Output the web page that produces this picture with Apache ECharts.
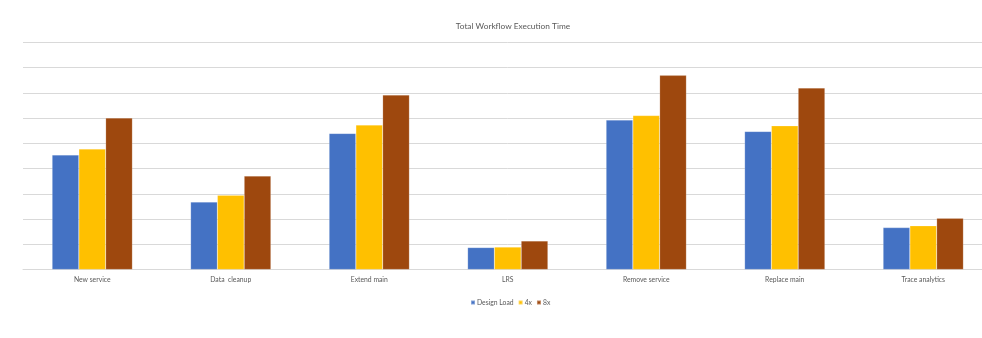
<!DOCTYPE html>
<html>
<head>
<meta charset="utf-8">
<script src="https://cdn.jsdelivr.net/npm/echarts@6/dist/echarts.min.js"></script>
<style>
  html, body { margin: 0; padding: 0; background: #ffffff; overflow: hidden; }
  #chart { width: 1000px; height: 338px; }
</style>
</head>
<body>
<div id="chart"></div>
<script>
// Workflow categories and execution times per load level
const categories = ['New service', 'Data  cleanup', 'Extend main', 'LRS', 'Remove service', 'Replace main', 'Trace analytics'];
const designLoad = [4.54, 2.67, 5.39, 0.87, 5.92, 5.47, 1.66];
const load4x     = [4.77, 2.94, 5.72, 0.89, 6.10, 5.69, 1.73];
const load8x     = [6.00, 3.70, 6.91, 1.13, 7.69, 7.19, 2.03];
const seriesNames = ['Design Load', '4x', '8x'];

const colors = ['#4472C4', '#FFC000', '#9E480E'];
const textColor = '#595959';
const fontFamily = 'Lato, "Liberation Sans", sans-serif';

const chart = echarts.init(document.getElementById('chart'), null, { renderer: 'canvas' });

function barSeries(name, data, color) {
  return {
    name: name,
    type: 'bar',
    data: data,
    barGap: '0%',
    barCategoryGap: '42%',
    itemStyle: { color: color, borderColor: 'rgba(255,255,255,0.35)', borderWidth: 0.5 },
    emphasis: { disabled: true }
  };
}

chart.setOption({
  animation: false,
  backgroundColor: '#ffffff',
  color: colors,
  title: {
    text: 'Total Workflow Execution Time',
    left: 508,
    textAlign: 'center',
    top: 17,
    textStyle: { color: textColor, fontSize: 8.3, fontWeight: 'normal', fontFamily: fontFamily }
  },
  legend: {
    data: seriesNames,
    top: 294,
    left: 465,
    icon: 'rect',
    itemWidth: 4,
    itemHeight: 4,
    itemGap: 4,
    textStyle: { color: textColor, fontSize: 6.8, fontFamily: fontFamily, padding: [0, 0, 0, -3] }
  },
  grid: { left: 23, top: 42.3, width: 969.5, height: 227.2, containLabel: false },
  xAxis: {
    type: 'category',
    data: categories,
    axisLine: { show: true, lineStyle: { color: '#d9d9d9', width: 1 } },
    axisTick: { show: false },
    axisLabel: { color: textColor, fontSize: 6.8, fontFamily: fontFamily, margin: 7 }
  },
  yAxis: {
    type: 'value',
    min: 0,
    max: 9,
    interval: 1,
    axisLabel: { show: false },
    axisLine: { show: false },
    axisTick: { show: false },
    splitLine: { lineStyle: { color: '#d9d9d9', width: 1 } }
  },
  series: [
    barSeries(seriesNames[0], designLoad, colors[0]),
    barSeries(seriesNames[1], load4x, colors[1]),
    barSeries(seriesNames[2], load8x, colors[2])
  ]
});
</script>
</body>
</html>
